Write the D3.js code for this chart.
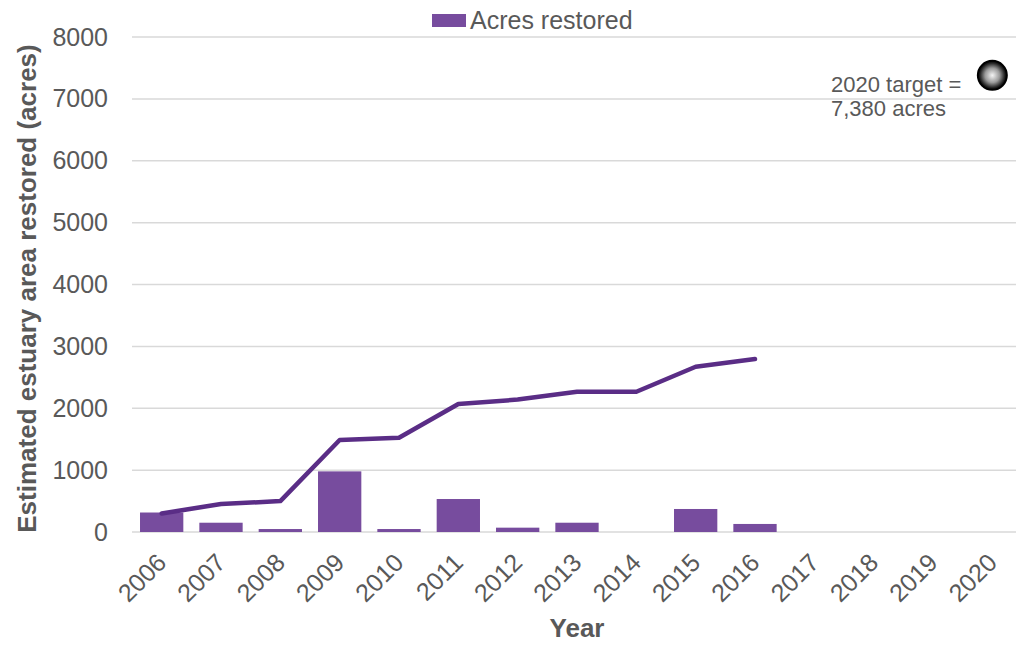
<!DOCTYPE html>
<html><head><meta charset="utf-8">
<script src="https://cdn.jsdelivr.net/npm/d3@7"></script>
<style>body{margin:0;background:#fff;} text{font-family:"Liberation Sans",Arial,sans-serif;}</style>
</head><body><svg id="c" width="1016" height="645"></svg>
<script>
const years = ["2006","2007","2008","2009","2010","2011","2012","2013","2014","2015","2016","2017","2018","2019","2020"];
const acresRestored = [315,150,48,980,48,533,70,150,0,372,130,null,null,null,null];
const cumulative = [300,452,500,1486,1523,2068,2140,2266,2266,2670,2795,null,null,null,null];
const yTicks = [0,1000,2000,3000,4000,5000,6000,7000,8000];
const targetYear = "2020";
const targetValue = 7380;
const targetLabel = ["2020 target =", "7,380 acres"];

const svg = d3.select("#c");
const L = 132, R = 1022, T = 37, B = 532;
const x = d3.scaleBand().domain(years).range([L, R]).paddingInner(0.27).paddingOuter(0.135);
const y = d3.scaleLinear().domain([0, 8000]).range([B, T]);
const grey = "#595959";

// gridlines
svg.append("g").selectAll("line").data(yTicks).join("line")
  .attr("x1", L).attr("x2", R).attr("y1", d => y(d)).attr("y2", d => y(d))
  .attr("stroke", "#d9d9d9").attr("stroke-width", 1.5);

// y axis labels
const yAxis = d3.axisLeft(y).tickValues(yTicks).tickSize(0).tickPadding(24).tickFormat(d3.format("d"));
const gy = svg.append("g").attr("transform", `translate(${L},0)`).call(yAxis);
gy.select(".domain").remove();
gy.selectAll("text").attr("fill", grey).style("font-size", "25px").attr("font-family", null);

// bars
const barData = years.map((yr, i) => ({yr, v: acresRestored[i]})).filter(d => d.v != null);
svg.append("g").selectAll("rect").data(barData).join("rect")
  .attr("x", d => x(d.yr)).attr("width", x.bandwidth())
  .attr("y", d => y(d.v)).attr("height", d => y(0) - y(d.v))
  .attr("fill", "#774c9e");

// line
const lineData = years.map((yr, i) => ({yr, v: cumulative[i]})).filter(d => d.v != null);
svg.append("path").datum(lineData)
  .attr("d", d3.line().x(d => x(d.yr) + x.bandwidth()/2).y(d => y(d.v)))
  .attr("fill", "none").attr("stroke", "#5a2d86").attr("stroke-width", 4.5)
  .attr("stroke-linejoin", "round").attr("stroke-linecap", "round");

// x axis labels
const xAxis = d3.axisBottom(x).tickSize(0).tickPadding(0);
const gx = svg.append("g").attr("transform", `translate(0,${B})`).call(xAxis);
gx.select(".domain").remove();
gx.selectAll("text").attr("fill", grey).style("font-size", "25px").attr("font-family", null)
  .attr("text-anchor", "end").attr("dy", "0.35em")
  .attr("transform", "translate(0,26) rotate(-45)");

// target marker
const grad = svg.append("defs").append("radialGradient").attr("id", "tg")
  .attr("cx", "50%").attr("cy", "50%").attr("r", "50%");
grad.append("stop").attr("offset", "0%").attr("stop-color", "#f4f4f4");
grad.append("stop").attr("offset", "50%").attr("stop-color", "#9a9a9a");
grad.append("stop").attr("offset", "85%").attr("stop-color", "#222");
grad.append("stop").attr("offset", "100%").attr("stop-color", "#000");
svg.append("circle").attr("cx", x(targetYear) + x.bandwidth()/2).attr("cy", y(targetValue))
  .attr("r", 14.5).attr("fill", "url(#tg)").attr("stroke", "#000").attr("stroke-width", 2);
svg.append("text").attr("x", 831).attr("y", 92).attr("fill", grey).style("font-size", "22px")
  .selectAll("tspan").data(targetLabel).join("tspan")
  .attr("x", 831).attr("dy", (d, i) => i === 0 ? 0 : 24).text(d => d);

// legend
svg.append("rect").attr("x", 432).attr("y", 14).attr("width", 34).attr("height", 13).attr("fill", "#774c9e");
svg.append("text").attr("x", 470).attr("y", 29).attr("fill", grey).style("font-size", "25px").text("Acres restored");

// axis titles
svg.append("text").attr("transform", `translate(36,${(T + 540)/2}) rotate(-90)`)
  .attr("text-anchor", "middle").attr("fill", grey).style("font-size", "26px").style("font-weight", "bold")
  .text("Estimated estuary area restored (acres)");
svg.append("text").attr("x", 577).attr("y", 637).attr("text-anchor", "middle").attr("fill", grey)
  .style("font-size", "26px").style("font-weight", "bold").text("Year");
</script></body></html>
